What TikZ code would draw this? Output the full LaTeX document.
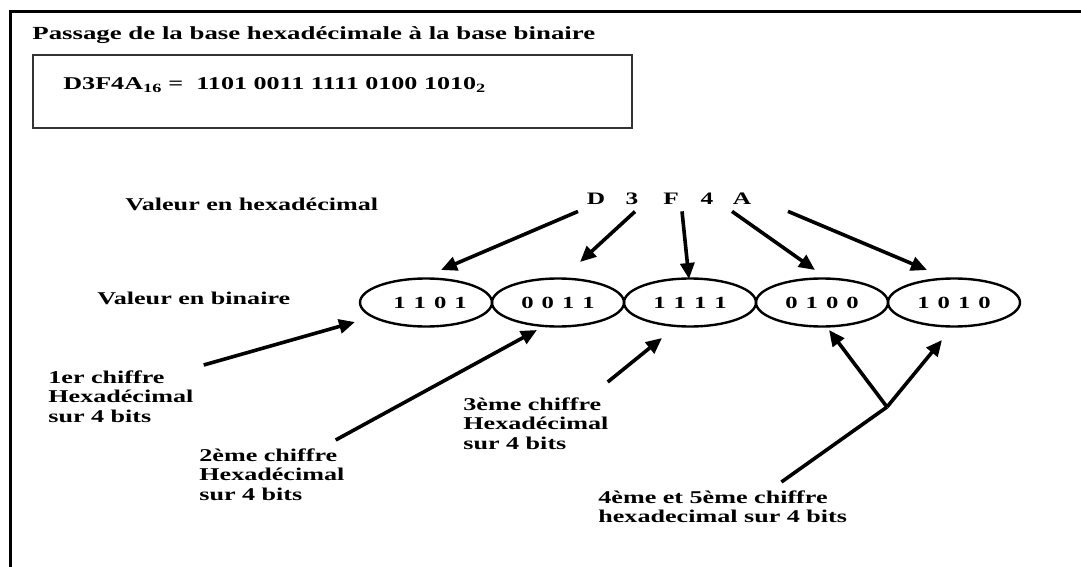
\documentclass[tikz,border=0pt]{standalone}
\usepackage{fontspec}
\setmainfont{Liberation Serif}[FakeStretch=1.45]
\usetikzlibrary{arrows.meta,shapes.geometric}

\newcommand{\bitrow}[4]{#1\hspace{8pt}#2\hspace{8pt}#3\hspace{8pt}#4}

\tikzset{every picture/.style={line width=0.75pt}}
\tikzset{
  txt/.style={inner sep=0pt, font=\fontsize{18}{19.5}\selectfont\bfseries, align=left},
  hexdigit/.style={inner sep=0pt, anchor=base, font=\fontsize{17.5}{19}\selectfont\bfseries},
  bitcell/.style={ellipse, draw, line width=2.4pt, minimum width=132pt, minimum height=48pt,
    inner sep=0pt, font=\fontsize{17}{19}\selectfont\bfseries},
  arr/.style={line width=3.6pt, -{Triangle[length=16pt,width=14pt]}},
}

\begin{document}
\begin{tikzpicture}[x=1pt,y=1pt,yscale=-1,xscale=1]
\useasboundingbox (0,0) rectangle (1081,567);

%Shape: Frame
\draw [line width=3.6pt] (1081,11.5) -- (10.5,11.5) -- (10.5,567) ;
%Shape: Rectangle
\draw [line width=1.6pt, black!80] (33,55) rectangle (632,128) ;

% Text Node
\node [txt, anchor=base west, font=\fontsize{18.5}{20}\selectfont\bfseries] (title) at (32,40) {Passage de la base hexadécimale à la base binaire};
% Text Node
\node [txt, anchor=base west] (formula) at (63,90) {D3F4A\textsubscript{16} = \ 1101 0011 1111 0100 1010\textsubscript{2}};
% Text Node
\node [txt, anchor=base west] (lhex) at (125,210) {Valeur en hexadécimal};
% Text Node
\node [txt, anchor=base west] (lbin) at (97,304) {Valeur en binaire};

% Hex digits
\node [hexdigit] (hD) at (596,204) {D};
\node [hexdigit] (h3) at (632,204) {3};
\node [hexdigit] (hF) at (671,204) {F};
\node [hexdigit] (h4) at (707,204) {4};
\node [hexdigit] (hA) at (742,204) {A};

%Shape: Ellipses
\node [bitcell] (b1) at (426,302.5) {\bitrow1101\hspace*{-8pt}};
\node [bitcell] (b2) at (558,302.5) {\bitrow0011};
\node [bitcell] (b3) at (690,302.5) {\bitrow1111};
\node [bitcell] (b4) at (822,302.5) {\bitrow0100};
\node [bitcell] (b5) at (954,302.5) {\bitrow1010\hspace{30pt}};

% Text Node
\node [txt, anchor=north west] (l1) at (48,370) {1er chiffre\\Hexadécimal\\sur 4 bits};
% Text Node
\node [txt, anchor=north west] (l2) at (199,448) {2ème chiffre\\Hexadécimal\\sur 4 bits};
% Text Node
\node [txt, anchor=north west] (l3) at (463,397) {3ème chiffre\\Hexadécimal\\sur 4 bits};
% Text Node
\node [txt, anchor=north west] (l45) at (598,490) {4ème et 5ème chiffre\\hexadecimal sur 4 bits};

% Arrow ends
\coordinate (tD) at (441,270);
\coordinate (t3) at (580,262);
\coordinate (tF) at (689,279);
\coordinate (t4) at (815,270);
\coordinate (tA) at (927,270);
\coordinate (s1) at (355,322);
\coordinate (s2) at (537,330);
\coordinate (s3) at (662,338);
\coordinate (s4) at (829,330);
\coordinate (s5) at (942,340);
\coordinate (fork) at (887,407);

%Straight Lines
\draw [arr] ([xshift=-18pt,yshift=7pt]hD.south) -- (tD) ;
\draw [arr] ([xshift=3pt,yshift=7pt]h3.south) -- (t3) ;
\draw [arr] ([xshift=11pt,yshift=7pt]hF.south) -- (tF) ;
\draw [arr] ([xshift=25pt,yshift=7pt]h4.south) -- (t4) ;
\draw [arr] ([xshift=46pt,yshift=7pt]hA.south) -- (tA) ;

%Straight Lines
\draw [arr] ([xshift=10pt,yshift=-5pt]l1.north east) -- (s1) ;
\draw [arr] ([xshift=-9pt,yshift=-8pt]l2.north east) -- (s2) ;
\draw [arr] ([xshift=-1pt,yshift=-15pt]l3.north east) -- (s3) ;
\draw [line width=3.6pt] ([xshift=-66pt,yshift=-8pt]l45.north east) -- (fork) ;
\draw [arr] (fork) -- (s4) ;
\draw [arr] (fork) -- (s5) ;

\end{tikzpicture}
\end{document}
